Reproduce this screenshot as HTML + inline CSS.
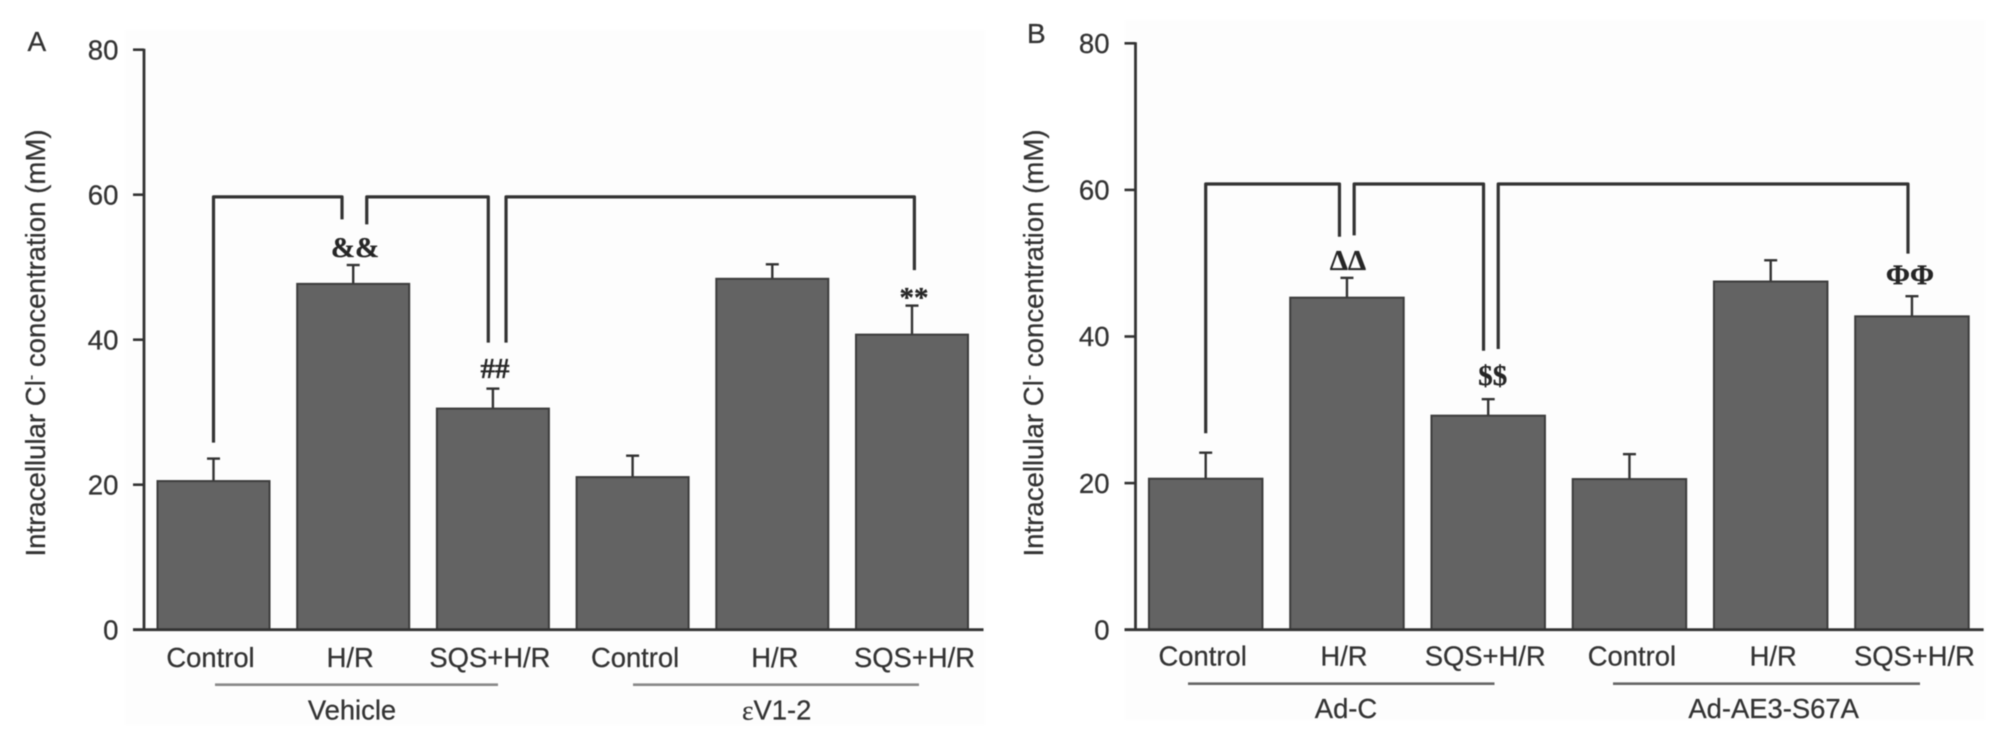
<!DOCTYPE html>
<html lang="en">
<head>
<meta charset="utf-8">
<title>Intracellular Cl- concentration</title>
<style>
html,body{margin:0;padding:0;background:#fff;width:2008px;height:750px;overflow:hidden}
svg{display:block;filter:blur(0.6px)}
text{font-family:"Liberation Sans",sans-serif;fill:#333;stroke:#333;stroke-width:0.25px}
.sym{font-family:"Liberation Serif",serif;font-weight:bold;font-size:29px;text-anchor:middle;fill:#262626;stroke:#262626;stroke-width:0.3px}
</style>
</head>
<body>
<svg id="figure" xmlns="http://www.w3.org/2000/svg" width="2008" height="750" viewBox="0 0 2008 750">
  <rect x="0" y="0" width="2008" height="750" fill="#ffffff"/>
  <rect x="125" y="30" width="860" height="695" fill="#fdfdfd"/>
  <rect x="1125" y="20" width="860" height="700" fill="#fdfdfd"/>

  <text x="27.5" y="51" font-size="28">A</text>
  <text x="1027" y="43" font-size="28">B</text>

  <text transform="translate(45,343) rotate(-90)" text-anchor="middle" font-size="27.6">Intracellular Cl<tspan font-size="16" dy="-9">-</tspan><tspan dy="9"> concentration (mM)</tspan></text>
  <text transform="translate(1043,343) rotate(-90)" text-anchor="middle" font-size="27.6">Intracellular Cl<tspan font-size="16" dy="-9">-</tspan><tspan dy="9"> concentration (mM)</tspan></text>

  <line x1="215" y1="684.7" x2="498" y2="684.7" stroke="#888" stroke-width="2.6"/>
  <line x1="633" y1="684.7" x2="919" y2="684.7" stroke="#888" stroke-width="2.6"/>
  <line x1="1188" y1="683.7" x2="1494.5" y2="683.7" stroke="#666" stroke-width="2.6"/>
  <line x1="1613" y1="683.7" x2="1920" y2="683.7" stroke="#666" stroke-width="2.6"/>

  <text x="352" y="719.5" text-anchor="middle" font-size="27.4">Vehicle</text>
  <text x="776.7" y="719.5" text-anchor="middle" font-size="27.4"><tspan font-family="Liberation Serif">ε</tspan>V1-2</text>
  <text x="1346" y="718" text-anchor="middle" font-size="27.4">Ad-C</text>
  <text x="1773.6" y="718" text-anchor="middle" font-size="27.4">Ad-AE3-S67A</text>
</svg>

<script>
// ---- data: shared axis ----
const yTickValues = [0, 20, 40, 60, 80];
const categoriesA = ["Control", "H/R", "SQS+H/R", "Control", "H/R", "SQS+H/R"];
const categoriesB = ["Control", "H/R", "SQS+H/R", "Control", "H/R", "SQS+H/R"];

// ---- data: panel A ----
const valuesA = [20.5, 47.7, 30.5, 21.05, 48.4, 40.7];
const errorsA = [3.1, 2.6, 2.75, 2.95, 2.0, 4.0];
const bracketFromCatA = [0, 1.097, 2.094];
const bracketToCatA = [0.92, 1.967, 5.017];
const bracketLevelA = [59.7, 59.7, 59.7];
const bracketFromLegA = [25.8, 55.9, 39.6];
const bracketToLegA = [56.6, 39.6, 49.6];
const markTextA = ["&&", "##", "**"];
const markCatA = [1.013, 2.015, 5.014];
const markLevelA = [51.4, 34.7, 44.5];

// ---- data: panel B ----
const valuesB = [20.6, 45.3, 29.2, 20.55, 47.5, 42.75];
const errorsB = [3.55, 2.7, 2.25, 3.4, 2.9, 2.75];
const bracketFromCatB = [0, 1.051, 2.071];
const bracketToCatB = [0.947, 1.967, 4.972];
const bracketLevelB = [60.8, 60.8, 60.8];
const bracketFromLegB = [26.8, 53.8, 38.3];
const bracketToLegB = [53.6, 38.05, 51.3];
const markTextB = ["\u0394\u0394", "$$", "\u03A6\u03A6"];
const markCatB = [1.007, 2.032, 4.986];
const markLevelB = [49.1, 33.4, 47.1];

const SVG_NS = "http://www.w3.org/2000/svg";
const fig = document.getElementById("figure");

function make(tag, attrs) {
  const el = document.createElementNS(SVG_NS, tag);
  for (const k in attrs) el.setAttribute(k, attrs[k]);
  fig.appendChild(el);
  return el;
}

function drawPanel(p) {
  const yScale = v => p.y0 - v * p.pxPerUnit;
  const xBand = c => p.x0 + c * p.step;
  const ink = "#333333";

  // bars
  p.values.forEach((v, i) => {
    const cx = xBand(i);
    const errTop = yScale(v + p.errors[i]);
    const stem = make("line", {x1: cx, x2: cx, y1: yScale(v), y2: errTop, stroke: ink, "stroke-width": 2.4});
    
    
    const cap = make("line", {x1: cx - 6.5, x2: cx + 6.5, y1: errTop, y2: errTop, stroke: ink, "stroke-width": 2.4});
    
    
    const bar = make("rect", {x: cx - p.barWidth / 2, y: yScale(v), width: p.barWidth, height: p.y0 - yScale(v), fill: "#636363", stroke: "#3c3c3c", "stroke-width": 2});
    
    
    const lab = make("text", {x: cx + (i < 3 ? -3 : 2.5), y: p.catBaseline, "text-anchor": "middle", "font-size": 27.4});
    lab.textContent = p.categories[i];
    
    
  });

  // axes
  const yAxis = make("line", {x1: p.axisX, x2: p.axisX, y1: yScale(80) - 1, y2: p.y0 + 1, stroke: ink, "stroke-width": 2.8});
  
  
  const xAxis = make("line", {x1: p.axisX - 11, x2: p.axisEnd, y1: p.y0, y2: p.y0, stroke: ink, "stroke-width": 2.8});
  
  
  yTickValues.forEach(t => {
    const tick = make("line", {x1: p.axisX - 11, x2: p.axisX, y1: yScale(t), y2: yScale(t), stroke: ink, "stroke-width": 2.6});
    
    
    const tl = make("text", {x: p.tickLabelX, y: yScale(t) + 9.7, "text-anchor": "end", "font-size": 27.6});
    tl.textContent = t;
    
    
  });

  // significance brackets
  p.bracketFrom.forEach((c, i) => {
    const x1 = xBand(c), x2 = xBand(p.bracketTo[i]), top = yScale(p.bracketLevel[i]);
    const d = "M" + x1 + " " + yScale(p.bracketFromLeg[i]) + " L" + x1 + " " + top + " L" + x2 + " " + top + " L" + x2 + " " + yScale(p.bracketToLeg[i]);
    const br = make("path", {d: d, fill: "none", stroke: "#333333", "stroke-width": 3.2, "stroke-linejoin": "round"});
    
    
  });

  // significance marks
  p.markText.forEach((s, i) => {
    const m = make("text", {x: xBand(p.markCat[i]), y: yScale(p.markLevel[i]), class: "sym"});
    m.textContent = s;
    
    
  });
}

drawPanel({
  id: "a", categories: categoriesA, values: valuesA, errors: errorsA,
  bracketFrom: bracketFromCatA, bracketTo: bracketToCatA, bracketLevel: bracketLevelA,
  bracketFromLeg: bracketFromLegA, bracketToLeg: bracketToLegA,
  markText: markTextA, markCat: markCatA, markLevel: markLevelA,
  y0: 629.7, pxPerUnit: 7.25, x0: 213.5, step: 139.7, barWidth: 112,
  axisX: 144, axisEnd: 983.5, tickLabelX: 118.5, catBaseline: 667
});
drawPanel({
  id: "b", categories: categoriesB, values: valuesB, errors: errorsB,
  bracketFrom: bracketFromCatB, bracketTo: bracketToCatB, bracketLevel: bracketLevelB,
  bracketFromLeg: bracketFromLegB, bracketToLeg: bracketToLegB,
  markText: markTextB, markCat: markCatB, markLevel: markLevelB,
  y0: 629.7, pxPerUnit: 7.33, x0: 1205.7, step: 141.25, barWidth: 113.5,
  axisX: 1135.5, axisEnd: 1983.6, tickLabelX: 1109.6, catBaseline: 665.5
});
</script>
</body>
</html>
